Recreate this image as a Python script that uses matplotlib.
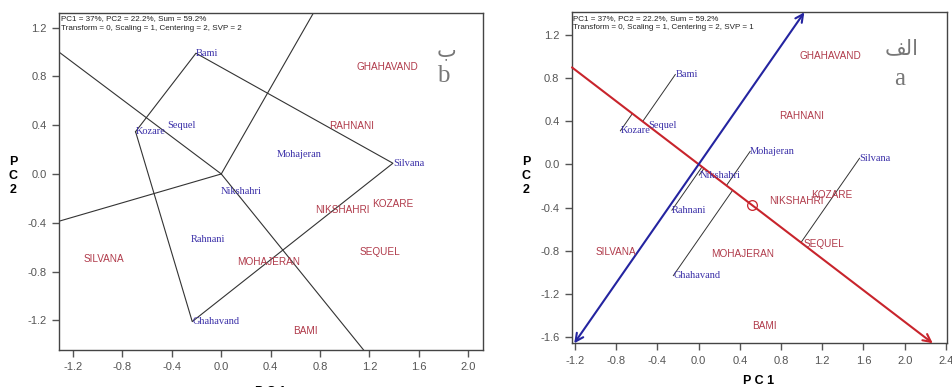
import numpy as np
import matplotlib
matplotlib.use("Agg")
import matplotlib.pyplot as plt

# ---------------- data ----------------
geno_names = ['Bami', 'Kozare', 'Sequel', 'Mohajeran', 'Silvana', 'Nikshahri', 'Rahnani', 'Ghahavand']
env_names = ['GHAHAVAND', 'RAHNANI', 'NIKSHAHRI', 'KOZARE', 'SEQUEL', 'SILVANA', 'MOHAJERAN', 'BAMI']

# panel b (which-won-where, SVP = 2)
b_geno_x = [-0.205, -0.694, -0.44, 0.45, 1.39, -0.005, -0.246, -0.235]
b_geno_y = [0.99, 0.347, 0.40, 0.156, 0.088, -0.145, -0.54, -1.21]
b_env_x = [1.095, 0.876, 0.762, 1.222, 1.117, -1.113, 0.125, 0.579]
b_env_y = [0.878, 0.394, -0.296, -0.246, -0.64, -0.698, -0.72, -1.289]

# panel a (mean vs stability, SVP = 1)
a_geno_x = [-0.227, -0.76, -0.49, 0.50, 1.562, 0.006, -0.26, -0.246]
a_geno_y = [0.831, 0.31, 0.357, 0.12, 0.056, -0.10, -0.425, -1.03]
a_env_x = [0.981, 0.78, 0.684, 1.094, 1.02, -0.998, 0.119, 0.523]
a_env_y = [1.005, 0.449, -0.341, -0.286, -0.741, -0.813, -0.834, -1.495]
avg_env_x = 0.513
avg_env_y = -0.374

header1 = 'PC1 = 37%, PC2 = 22.2%, Sum = 59.2%'
header_b = 'Transform = 0, Scaling = 1, Centering = 2, SVP = 2'
header_a = 'Transform = 0, Scaling = 1, Centering = 2, SVP = 1'

b_xticks = [-1.2, -0.8, -0.4, 0.0, 0.4, 0.8, 1.2, 1.6, 2.0]
b_yticks = [-1.2, -0.8, -0.4, 0.0, 0.4, 0.8, 1.2]
a_xticks = [-1.2, -0.8, -0.4, 0.0, 0.4, 0.8, 1.2, 1.6, 2.0, 2.4]
a_yticks = [-1.6, -1.2, -0.8, -0.4, 0.0, 0.4, 0.8, 1.2]

# ---------------- style ----------------
W, H = 952, 387
fig = plt.figure(figsize=(W / 100, H / 100), dpi=100)
BLUE_T = '#3a2fa8'
RED_T = '#b03a4a'
RED_L = '#c8242c'
BLUE_L = '#2424a0'
GRAY = '#555555'


def px_axes(l, t, r, b):
    return fig.add_axes([l / W, 1 - b / H, (r - l) / W, (b - t) / H])


def style(ax, xt, yt):
    for s in ax.spines.values():
        s.set_color('#444444')
        s.set_linewidth(1.0)
    ax.set_xticks(xt)
    ax.set_yticks(yt)
    ax.set_xticklabels(['%.1f' % v for v in xt])
    ax.set_yticklabels(['%.1f' % v for v in yt])
    ax.tick_params(direction='out', length=5, width=1, color='#555555',
                   labelsize=8, labelcolor=GRAY, pad=4)
    for lab in ax.get_xticklabels() + ax.get_yticklabels():
        lab.set_family('Liberation Sans')


def ray_end(ax, d):
    """point where ray from origin in direction d meets the axes box"""
    x0, x1 = ax.get_xlim()
    y0, y1 = ax.get_ylim()
    ts = []
    if d[0] > 0:
        ts.append(x1 / d[0])
    elif d[0] < 0:
        ts.append(x0 / d[0])
    if d[1] > 0:
        ts.append(y1 / d[1])
    elif d[1] < 0:
        ts.append(y0 / d[1])
    t = min(ts)
    return np.array(d) * t


def convex_hull(pts):
    pts = sorted(pts)
    def cross(o, a, b):
        return (a[0] - o[0]) * (b[1] - o[1]) - (a[1] - o[1]) * (b[0] - o[0])
    lower, upper = [], []
    for p in pts:
        while len(lower) >= 2 and cross(lower[-2], lower[-1], p) <= 0:
            lower.pop()
        lower.append(p)
    for p in reversed(pts):
        while len(upper) >= 2 and cross(upper[-2], upper[-1], p) <= 0:
            upper.pop()
        upper.append(p)
    return lower[:-1] + upper[:-1]


def labels(ax, gx, gy, ex, ey):
    for n, x, y in zip(geno_names, gx, gy):
        ax.text(x, y, n, color=BLUE_T, fontsize=7.5, family='Liberation Serif',
                ha='left', va='center', zorder=5)
    for n, x, y in zip(env_names, ex, ey):
        ax.text(x, y, n, color=RED_T, fontsize=7.2, family='Liberation Sans',
                ha='left', va='center', zorder=5)


def headers(ax, second):
    ax.text(0.004, 0.992, header1 + '\n' + second, transform=ax.transAxes,
            fontsize=5.8, family='Liberation Sans', ha='left', va='top',
            linespacing=1.45, color='#222222')


# ---------------- panel b (left) ----------------
axb = px_axes(59, 12.7, 482.7, 350)
axb.set_xlim(-1.314, 2.117)
axb.set_ylim(-1.443, 1.322)
style(axb, b_xticks, b_yticks)

hull = convex_hull(list(zip(b_geno_x, b_geno_y)))
hx = [p[0] for p in hull] + [hull[0][0]]
hy = [p[1] for p in hull] + [hull[0][1]]
axb.plot(hx, hy, color='#333333', lw=0.8, zorder=2)
for i in range(len(hull)):
    p1 = np.array(hull[i])
    p2 = np.array(hull[(i + 1) % len(hull)])
    e = p2 - p1
    n = np.array([-e[1], e[0]])
    if np.dot(n, p1) < 0:
        n = -n
    end = ray_end(axb, n)
    axb.plot([0, end[0]], [0, end[1]], color='#333333', lw=0.8, zorder=2)

labels(axb, b_geno_x, b_geno_y, b_env_x, b_env_y)
headers(axb, header_b)

# ---------------- panel a (right) ----------------
axa = px_axes(572, 12.3, 946.7, 343.3)
axa.set_xlim(-1.23, 2.408)
axa.set_ylim(-1.657, 1.407)
style(axa, a_xticks, a_yticks)

u = np.array([avg_env_x, avg_env_y])
u = u / np.linalg.norm(u)
v = np.array([-u[1], u[0]])

r_end = ray_end(axa, u)
r_start = ray_end(axa, -u)
axa.annotate('', xy=r_end, xytext=r_start,
             arrowprops=dict(arrowstyle='->', color=RED_L, lw=1.5,
                             mutation_scale=14, shrinkA=0, shrinkB=0),
             annotation_clip=False, zorder=3)
b_end = ray_end(axa, v)
b_start = ray_end(axa, -v)
axa.annotate('', xy=b_end, xytext=b_start,
             arrowprops=dict(arrowstyle='<->', color=BLUE_L, lw=1.5,
                             mutation_scale=14, shrinkA=0, shrinkB=0),
             annotation_clip=False, zorder=3)

# projections of genotypes onto the average-environment axis
for x, y in zip(a_geno_x, a_geno_y):
    p = np.array([x, y])
    proj = np.dot(p, u) * u
    axa.plot([x, proj[0]], [y, proj[1]], color='#333333', lw=0.7, zorder=2)

axa.plot([avg_env_x], [avg_env_y], marker='o', ms=7, mfc='none',
         mec=RED_L, mew=0.9, zorder=4)

labels(axa, a_geno_x, a_geno_y, a_env_x, a_env_y)
headers(axa, header_a)

# ---------------- axis titles ----------------
def fx(px):
    return px / W


def fy(py):
    return 1 - py / H


for cx in (13, 526):
    for ch, py in zip(['P', 'C', '2'], [162, 176, 190]):
        fig.text(fx(cx), fy(py), ch, fontsize=9, fontweight='bold',
                 family='Liberation Sans', ha='center', va='center')

fig.text(fx(270.8), fy(392), 'P C 1', fontsize=9, fontweight='bold',
         family='Liberation Sans', ha='center', va='center')
fig.text(fx(759), fy(381.5), 'P C 1', fontsize=9, fontweight='bold',
         family='Liberation Sans', ha='center', va='center')

# ---------------- panel letters ----------------
fig.text(fx(446), fy(50), '\u0628', fontsize=15, color='#777777',
         family='DejaVu Sans', ha='center', va='center')
fig.text(fx(443), fy(76), 'b', fontsize=18, color='#777777',
         family='Liberation Serif', ha='center', va='center')
fig.text(fx(902), fy(48), '\uFED2\uFEDF\uFE8D', fontsize=15, color='#777777',
         family='DejaVu Sans', ha='center', va='center')
fig.text(fx(900), fy(79), 'a', fontsize=18, color='#777777',
         family='Liberation Serif', ha='center', va='center')

fig.savefig('out.png', dpi=100)
